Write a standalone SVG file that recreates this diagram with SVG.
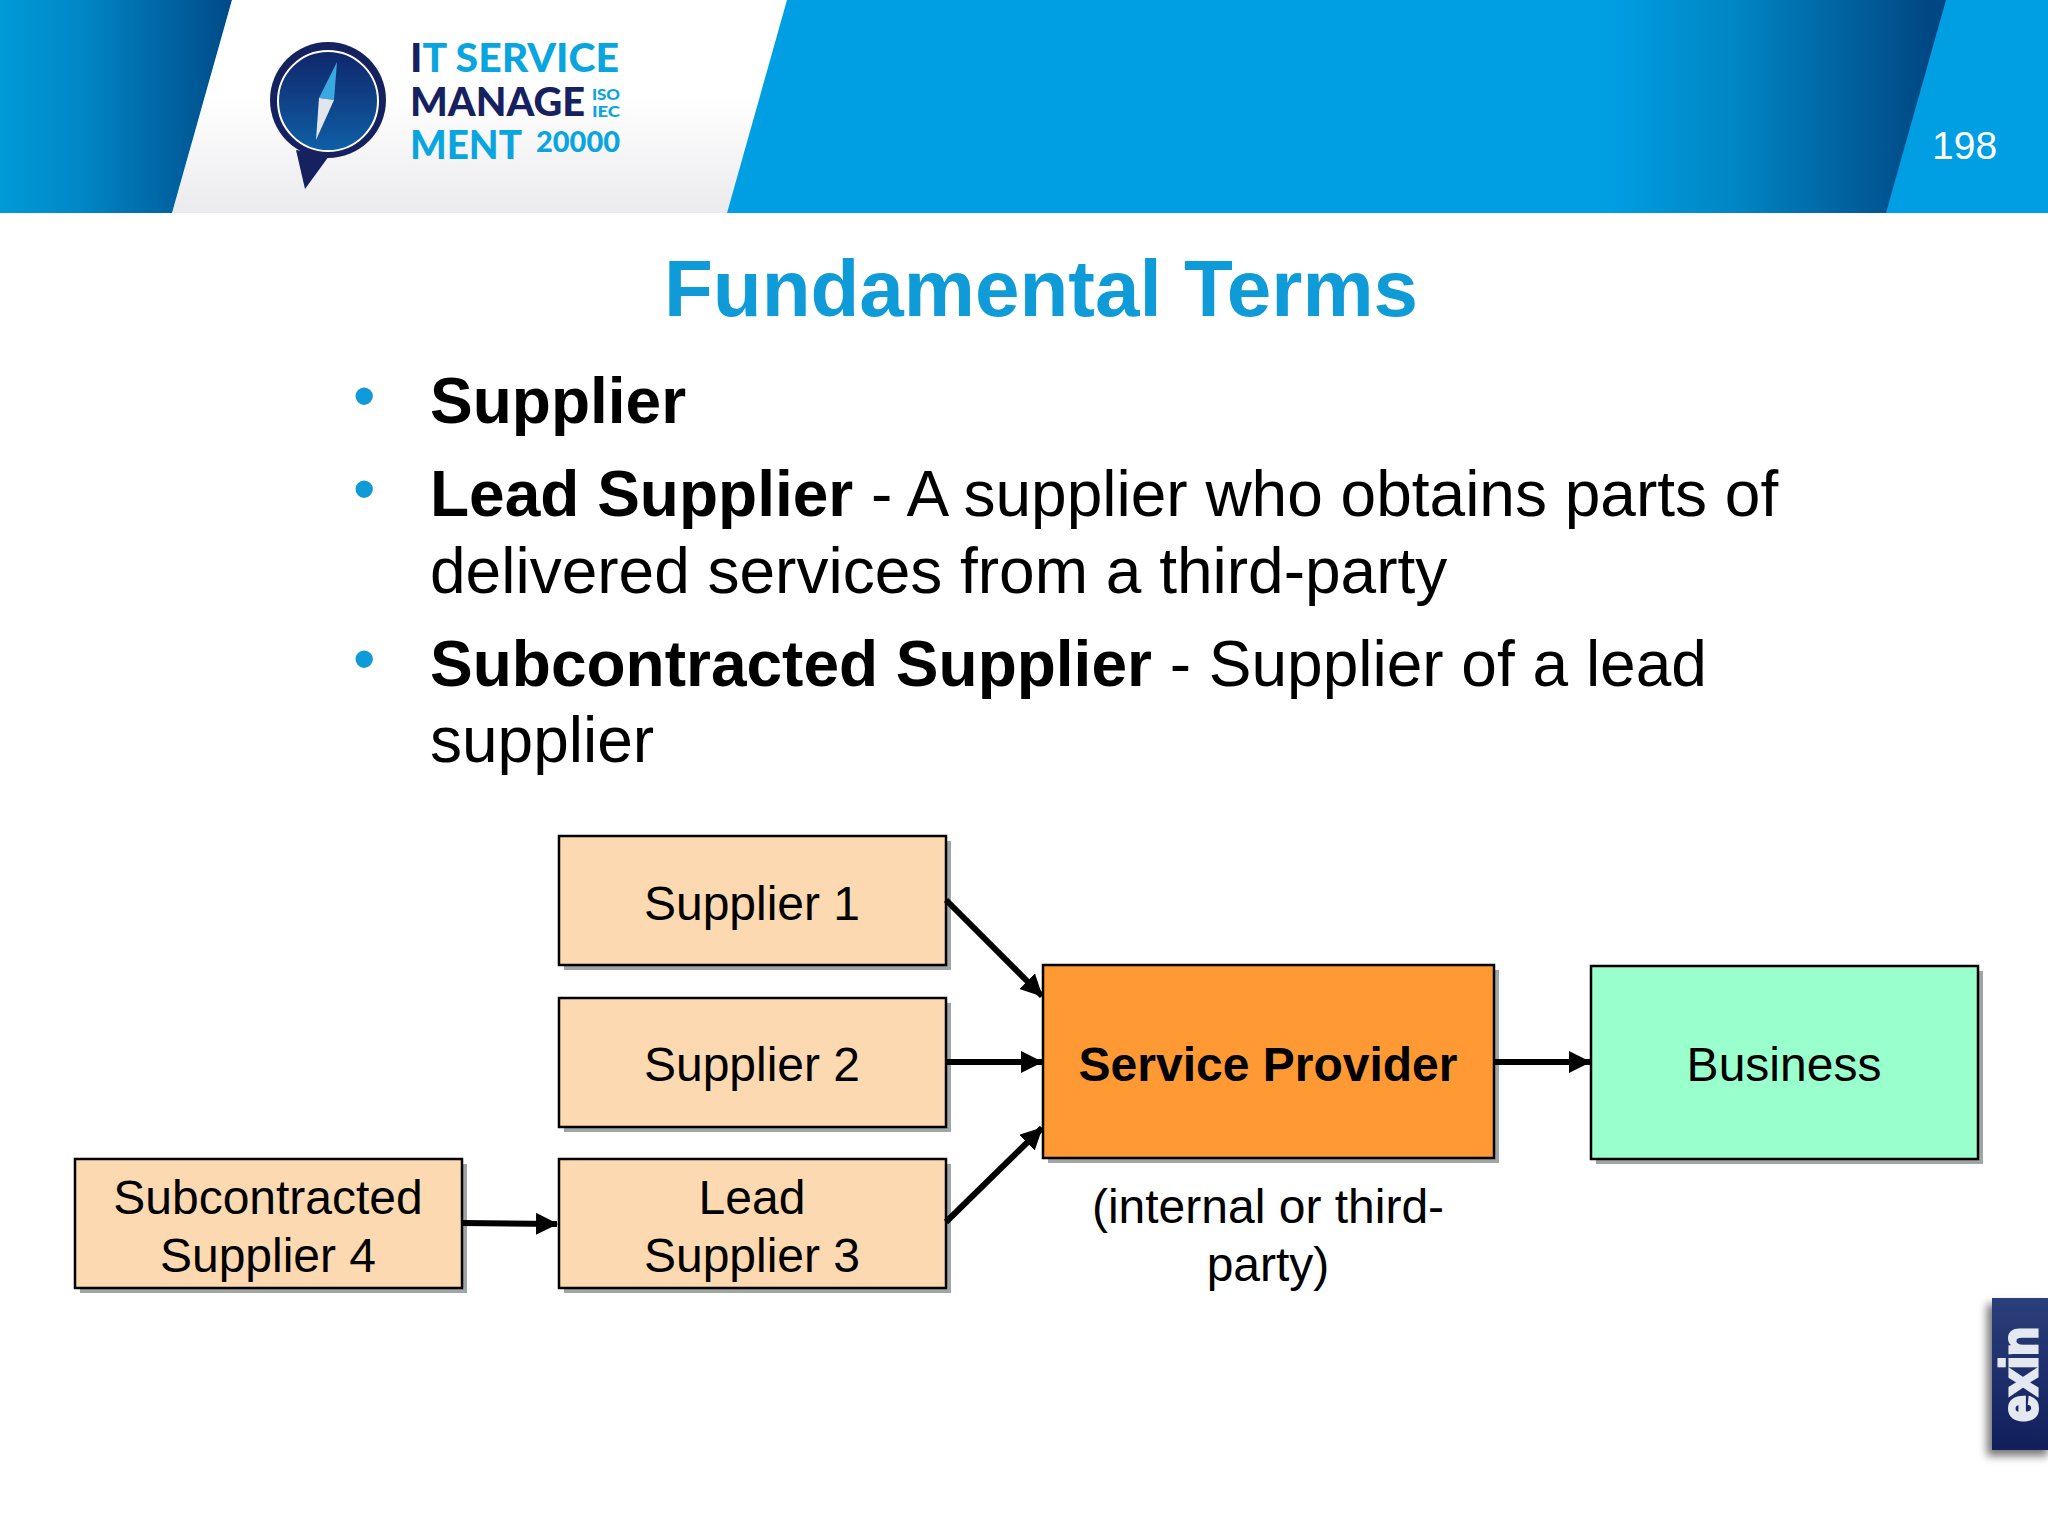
<svg xmlns="http://www.w3.org/2000/svg" width="2048" height="1536" viewBox="0 0 2048 1536">
<style>
text{font-family:"Liberation Sans",Arial,sans-serif;fill:#000}
.body{font-size:64px}
.b{font-weight:bold}
.lbl{font-size:48px;text-anchor:middle}
.box{stroke:#000;stroke-width:2.5}
.shadow{fill:#a0a5a6}
.peach{fill:#fdd9b2}
.conn{stroke:#000;stroke-width:6;fill:none;marker-end:url(#arrow)}
.logo{font-family:Lato,"Liberation Sans",sans-serif;font-weight:900}
.navy{fill:#16225f}
.cyan{fill:#0aa5df}
.bullet{fill:#0f9bd7;font-size:64px}
</style>
<defs>
<linearGradient id="bandL" x1="0" y1="0" x2="1" y2="0"><stop offset="0" stop-color="#009ad9"/><stop offset="0.35" stop-color="#0087c6"/><stop offset="1" stop-color="#004a87"/></linearGradient>
<linearGradient id="bandR" gradientUnits="userSpaceOnUse" x1="1610" y1="0" x2="1930" y2="0"><stop offset="0" stop-color="#009ee2"/><stop offset="0.4" stop-color="#0085c3"/><stop offset="1" stop-color="#004783"/></linearGradient>
<linearGradient id="panel" x1="0" y1="0" x2="0" y2="1"><stop offset="0.45" stop-color="#ffffff"/><stop offset="1" stop-color="#ebebee"/></linearGradient>
<linearGradient id="dial" x1="0" y1="0" x2="0" y2="1"><stop offset="0" stop-color="#10266a"/><stop offset="1" stop-color="#0f5fa6"/></linearGradient>
<linearGradient id="exinG" x1="0" y1="0" x2="0" y2="1"><stop offset="0" stop-color="#2b3f7b"/><stop offset="1" stop-color="#111f5b"/></linearGradient>
<filter id="blur" x="-30%" y="-30%" width="160%" height="160%"><feGaussianBlur stdDeviation="4"/></filter>
<marker id="arrow" markerUnits="userSpaceOnUse" markerWidth="24" markerHeight="24" refX="21" refY="11" orient="auto"><path d="M0,0L22,11L0,22Z" fill="#000"/></marker>
</defs>
<rect width="2048" height="1536" fill="#fff"/>
<g id="header">
<rect width="2048" height="213" fill="#009ee2"/>
<path d="M0,0H232L172,213H0Z" fill="url(#bandL)"/>
<path d="M232,0H787L727,213H172Z" fill="url(#panel)"/>
<path d="M1610,0H1946L1886,213H1610Z" fill="url(#bandR)"/>
<text x="1932" y="159" font-size="39" style="fill:#fff">198</text>
</g>
<g id="logo">
<path d="M296,150L305,189L329,156Z" fill="#16225f"/>
<circle cx="328" cy="100" r="58" fill="#16225f"/>
<circle cx="328" cy="101" r="50" fill="url(#dial)" stroke="#fff" stroke-width="2"/>
<path d="M337,62L319,98L334,100Z" fill="#3aa9e0"/>
<path d="M319,98L316,140L334,100Z" fill="#e2e6ec"/>
<text class="logo" x="410" y="72" font-size="39" textLength="209" lengthAdjust="spacingAndGlyphs"><tspan class="navy">I</tspan><tspan class="cyan">T SERVICE</tspan></text>
<text class="logo navy" x="410" y="116" font-size="39" textLength="175" lengthAdjust="spacingAndGlyphs">MANAGE</text>
<text class="logo cyan" x="410" y="159" font-size="39" textLength="112" lengthAdjust="spacingAndGlyphs">MENT</text>
<text class="logo cyan" x="536" y="152" font-size="28" textLength="84" lengthAdjust="spacingAndGlyphs">20000</text>
<text class="logo cyan" x="592" y="100" font-size="15" textLength="28" lengthAdjust="spacingAndGlyphs">ISO</text>
<text class="logo cyan" x="592" y="117" font-size="15" textLength="28" lengthAdjust="spacingAndGlyphs">IEC</text>
</g>
<text id="title" x="1041" y="316" font-size="80" class="b" text-anchor="middle" style="fill:#0f9bd7">Fundamental Terms</text>
<g id="bullets">
<text class="bullet" x="353" y="418">•</text>
<text class="body b" x="430" y="423">Supplier</text>
<text class="bullet" x="353" y="511">•</text>
<text class="body" x="430" y="516"><tspan class="b">Lead Supplier</tspan> - A supplier who obtains parts of</text>
<text class="body" x="430" y="593">delivered services from a third-party</text>
<text class="bullet" x="353" y="681">•</text>
<text class="body" x="430" y="686"><tspan class="b">Subcontracted Supplier</tspan> - Supplier of a lead</text>
<text class="body" x="430" y="762">supplier</text>
</g>
<g id="supplier1">
<rect class="shadow" x="564" y="841" width="387" height="129"/>
<rect class="box peach" x="559" y="836" width="387" height="129"/>
<text class="lbl" x="752" y="920">Supplier 1</text>
</g>
<g id="supplier2">
<rect class="shadow" x="564" y="1003" width="387" height="129"/>
<rect class="box peach" x="559" y="998" width="387" height="129"/>
<text class="lbl" x="752" y="1081">Supplier 2</text>
</g>
<g id="lead-supplier3">
<rect class="shadow" x="564" y="1164" width="387" height="129"/>
<rect class="box peach" x="559" y="1159" width="387" height="129"/>
<text class="lbl" x="752" y="1214">Lead</text>
<text class="lbl" x="752" y="1272">Supplier 3</text>
</g>
<g id="subcontracted-supplier4">
<rect class="shadow" x="80" y="1164" width="387" height="129"/>
<rect class="box peach" x="75" y="1159" width="387" height="129"/>
<text class="lbl" x="268" y="1214">Subcontracted</text>
<text class="lbl" x="268" y="1272">Supplier 4</text>
</g>
<g id="service-provider">
<rect class="shadow" x="1048" y="970" width="451" height="193"/>
<rect class="box" x="1043" y="965" width="451" height="193" fill="#ff9933"/>
<text class="lbl b" x="1268" y="1081">Service Provider</text>
<text class="lbl" x="1268" y="1223">(internal or third-</text>
<text class="lbl" x="1268" y="1281">party)</text>
</g>
<g id="business">
<rect class="shadow" x="1596" y="971" width="387" height="193"/>
<rect class="box" x="1591" y="966" width="387" height="193" fill="#99ffcc"/>
<text class="lbl" x="1784" y="1081">Business</text>
</g>
<g id="connectors">
<path class="conn" d="M946,900L1042,996"/>
<path class="conn" d="M946,1062H1042"/>
<path class="conn" d="M946,1222L1042,1128"/>
<path class="conn" d="M462,1223L557,1224"/>
<path class="conn" d="M1494,1062H1590"/>
</g>
<g id="exin">
<rect x="1987" y="1304" width="61" height="152" fill="#777" filter="url(#blur)"/>
<rect x="1992" y="1298" width="56" height="152" fill="url(#exinG)"/>
<text transform="translate(2037,1422) rotate(-90)" font-size="52" class="b" textLength="95" lengthAdjust="spacingAndGlyphs" style="fill:#e4e8f0;stroke:#e4e8f0;stroke-width:3">exin</text>
</g>
</svg>
